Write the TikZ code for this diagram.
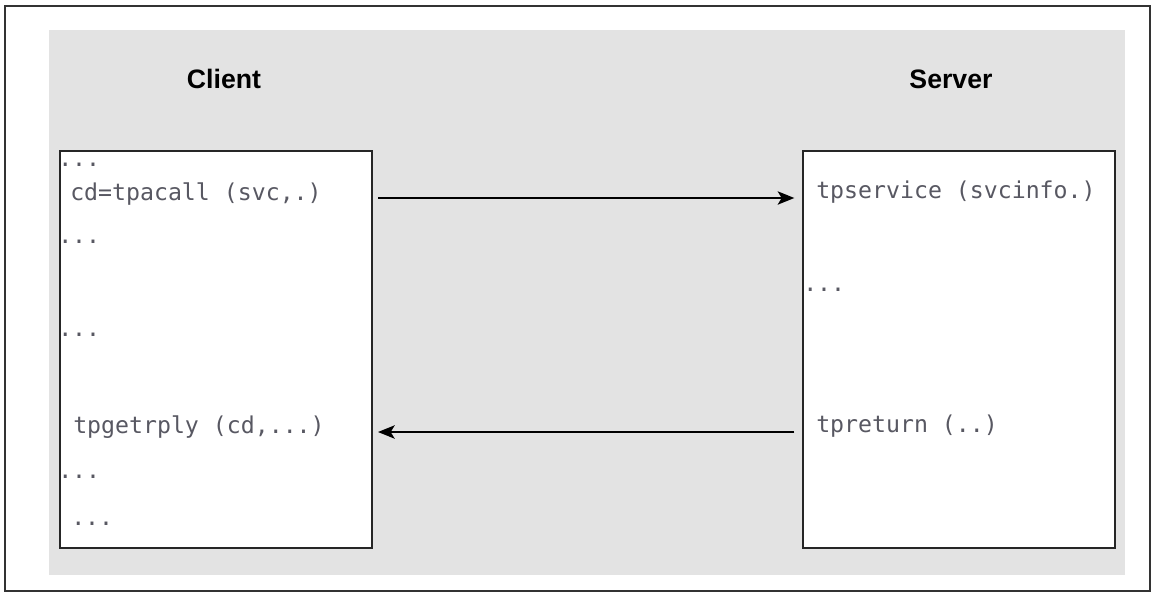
\documentclass[tikz,border=0pt]{standalone}
\usepackage{fontspec}
\setmainfont{Liberation Sans}
\newfontfamily\codefont{DejaVu Sans Mono}
\usetikzlibrary{arrows.meta}
\definecolor{panelgray}{RGB}{227,227,227}
\definecolor{codegray}{RGB}{88,88,98}
\tikzset{
  codebox/.style = {draw=black!85, line width=1pt, fill=white, minimum width=234pt, minimum height=297.75pt, inner sep=0pt},
  code/.style = {anchor=base west, inner sep=0pt, text=codegray, font=\codefont\fontsize{17.4}{20}\selectfont},
  side/.style = {anchor=base, inner sep=0pt, font=\bfseries\fontsize{20}{24}\selectfont},
  msg/.style = {-{Stealth[length=12.5pt, width=10pt, inset=3pt]}, line width=1.5pt}
}

\begin{document}
\begin{tikzpicture}[x=0.75pt, y=-0.75pt]
\useasboundingbox (0,0) rectangle (1155,593);
\draw[black!80, line width=0.8pt] (5,6) rectangle (1150,591);
\fill[panelgray] (49,30) rectangle (1125,575);

\node[side] (clienttitle) at (224,88) {Client};
\node[side] (servertitle) at (951,88) {Server};

\node[codebox] (client) at (216,349.5) {};
\node[codebox] (server) at (959,349.5) {};

\node[code] (cdots1) at (58,166) {...};
\node[code] (acall) at (70,200) {cd=tpacall (svc,.)};
\node[code] (cdots2) at (58,243) {...};
\node[code] (cdots3) at (58,336) {...};
\node[code] (getrply) at (73,433) {tpgetrply (cd,...)};
\node[code] (cdots4) at (58,478) {...};
\node[code] (cdots5) at (71,525) {...};

\node[code] (service) at (816,198) {tpservice (svcinfo.)};
\node[code] (sdots) at (803,291) {...};
\node[code] (return) at (816,432) {tpreturn (..)};

\draw[msg, shorten <=4pt, shorten >=6pt] ([yshift=1.5pt]client.east |- acall.base) -- ([yshift=1.5pt]server.west |- acall.base);
\draw[msg, shorten <=6pt, shorten >=4pt] (server.west |- return.base) -- (client.east |- return.base);
\end{tikzpicture}
\end{document}
